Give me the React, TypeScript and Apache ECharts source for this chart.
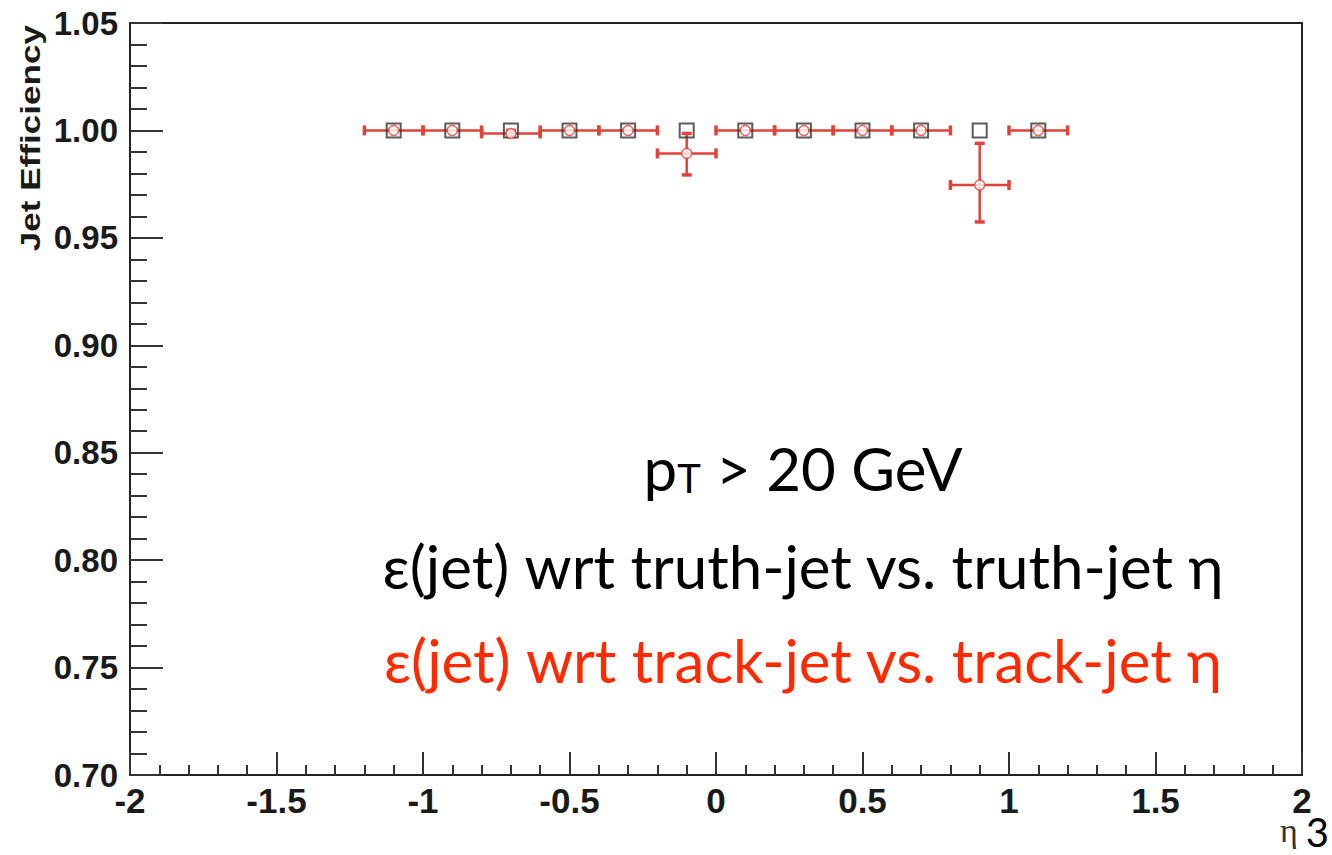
import React, { useEffect, useRef } from "react";
import * as echarts from "echarts";

const etaBins = [-1.1, -0.9, -0.7, -0.5, -0.3, -0.1, 0.1, 0.3, 0.5, 0.7, 0.9, 1.1];
const binHalfWidth = [0.1, 0.1, 0.1, 0.1, 0.1, 0.1, 0.1, 0.1, 0.1, 0.1, 0.1, 0.1];
const truthJetEff = [1.0, 1.0, 1.0, 1.0, 1.0, 1.0, 1.0, 1.0, 1.0, 1.0, 1.0, 1.0];
const trackJetEff = [1.0, 1.0, 0.9986, 1.0, 1.0, 0.9893, 1.0, 1.0, 1.0, 1.0, 0.9746, 1.0];
const trackErrLow = [0, 0, 0.0014, 0, 0, 0.0100, 0, 0, 0, 0, 0.0172, 0];
const trackErrHigh = [0, 0, 0.0014, 0, 0, 0.0093, 0, 0, 0, 0, 0.0194, 0];
const xTicks = [-2, -1.5, -1, -0.5, 0, 0.5, 1, 1.5, 2];
const yTicks = [0.7, 0.75, 0.8, 0.85, 0.9, 0.95, 1.0, 1.05];

const RED = "#e0433a";

export default function App() {
  const ref = useRef<HTMLDivElement>(null);
  useEffect(() => {
    document.body.style.margin = "0";
    const chart = echarts.init(ref.current!, null, { renderer: "svg" });
    const errData = etaBins.map((x, i) => [
      x,
      trackJetEff[i],
      binHalfWidth[i],
      trackErrLow[i],
      trackErrHigh[i],
    ]);
    const axisLabelFont = "'Liberation Sans', Arial, sans-serif";
    const option: any = {
      animation: false,
      backgroundColor: "#ffffff",
      grid: {
        left: 130,
        right: 30,
        top: 23,
        bottom: 80,
        show: true,
        borderColor: "#222",
        borderWidth: 2,
        backgroundColor: "transparent",
      },
      xAxis: {
        type: "value",
        min: xTicks[0],
        max: xTicks[xTicks.length - 1],
        interval: 0.5,
        axisLine: { show: true, onZero: false, lineStyle: { color: "#222", width: 2 } },
        axisTick: { show: true, inside: true, length: 23, lineStyle: { color: "#333", width: 2 } },
        minorTick: { show: true, splitNumber: 5, length: 10, lineStyle: { color: "#333", width: 2 } },
        splitLine: { show: false },
        axisLabel: {
          margin: 8,
          color: "#1a1a1a",
          fontFamily: axisLabelFont,
          fontWeight: "bold",
          fontSize: 35,
          formatter: (v: number) => String(v),
        },
      },
      yAxis: {
        type: "value",
        min: yTicks[0],
        max: yTicks[yTicks.length - 1],
        interval: 0.05,
        axisLine: { show: true, onZero: false, lineStyle: { color: "#222", width: 2 } },
        axisTick: { show: true, inside: true, length: 33, lineStyle: { color: "#333", width: 2 } },
        minorTick: { show: true, splitNumber: 5, length: 17, lineStyle: { color: "#333", width: 2 } },
        splitLine: { show: false },
        axisLabel: {
          margin: 12,
          color: "#1a1a1a",
          fontFamily: axisLabelFont,
          fontWeight: "bold",
          fontSize: 33,
          formatter: (v: number) => v.toFixed(2),
        },
      },
      series: [
        {
          type: "custom",
          name: "track-jet errors",
          data: errData,
          z: 2,
          renderItem: (params: any, api: any) => {
            const x = api.value(0);
            const y = api.value(1);
            const hw = api.value(2);
            const lo = api.value(3);
            const hi = api.value(4);
            const c = api.coord([x, y]);
            const l = api.coord([x - hw, y]);
            const r = api.coord([x + hw, y]);
            const t = api.coord([x, y + hi]);
            const b = api.coord([x, y - lo]);
            const st = { stroke: RED, lineWidth: 2.5 };
            const cap = { stroke: RED, lineWidth: 3.5 };
            const children: any[] = [
              { type: "line", shape: { x1: l[0], y1: c[1], x2: r[0], y2: c[1] }, style: st },
              { type: "line", shape: { x1: l[0], y1: c[1] - 5, x2: l[0], y2: c[1] + 5 }, style: cap },
              { type: "line", shape: { x1: r[0], y1: c[1] - 5, x2: r[0], y2: c[1] + 5 }, style: cap },
            ];
            if (hi > 0 || lo > 0) {
              children.push(
                { type: "line", shape: { x1: c[0], y1: t[1], x2: c[0], y2: b[1] }, style: st },
                { type: "line", shape: { x1: c[0] - 5, y1: t[1], x2: c[0] + 5, y2: t[1] }, style: cap },
                { type: "line", shape: { x1: c[0] - 5, y1: b[1], x2: c[0] + 5, y2: b[1] }, style: cap }
              );
            }
            return { type: "group", children };
          },
        },
        {
          type: "scatter",
          name: "truth-jet",
          data: etaBins.map((x, i) => [x, truthJetEff[i]]),
          symbol: "rect",
          symbolSize: 14,
          z: 3,
          itemStyle: { color: "transparent", borderColor: "#333", borderWidth: 2 },
        },
        {
          type: "scatter",
          name: "track-jet",
          data: etaBins.map((x, i) => [x, trackJetEff[i]]),
          symbol: "circle",
          symbolSize: 10,
          z: 4,
          itemStyle: { color: "#ffffff", borderColor: RED, borderWidth: 1.5 },
        },
      ],
      graphic: [
        {
          type: "text",
          x: 31,
          y: 25,
          rotation: Math.PI / 2,
          scaleX: 1.3,
          style: {
            text: "Jet Efficiency",
            fontFamily: axisLabelFont,
            fontWeight: "bold",
            fontSize: 27,
            fill: "#1a1a1a",
            align: "right",
            verticalAlign: "middle",
          },
        },
        {
          type: "text",
          x: 803,
          y: 468,
          style: {
            text: "{p|p}{t|T}{n| > 20 GeV}",
            align: "center",
            verticalAlign: "middle",
            fill: "#000",
            rich: {
              p: { fontFamily: "Lato", fontSize: 60, fill: "#000", verticalAlign: "bottom" },
              t: { fontFamily: "Lato", fontSize: 40, fill: "#000", verticalAlign: "bottom" },
              n: { fontFamily: "Lato", fontSize: 60, fill: "#000", verticalAlign: "bottom" },
            },
          },
        },
        {
          type: "text",
          x: 803,
          y: 566,
          style: {
            text: "\u03b5(jet) wrt truth-jet vs. truth-jet \u03b7",
            fontFamily: "Lato",
            fontSize: 60,
            fill: "#000",
            align: "center",
            verticalAlign: "middle",
          },
        },
        {
          type: "text",
          x: 803,
          y: 660,
          style: {
            text: "\u03b5(jet) wrt track-jet vs. track-jet \u03b7",
            fontFamily: "Lato",
            fontSize: 60,
            fill: "#ff2a00",
            align: "center",
            verticalAlign: "middle",
          },
        },
        {
          type: "text",
          x: 1289,
          y: 830,
          style: {
            text: "\u03b7",
            fontFamily: "'Liberation Serif', serif",
            fontSize: 34,
            fill: "#333",
            align: "center",
            verticalAlign: "middle",
          },
        },
        {
          type: "text",
          x: 1329,
          y: 832,
          style: {
            text: "3",
            fontFamily: "Lato",
            fontSize: 40,
            fill: "#000",
            align: "right",
            verticalAlign: "middle",
          },
        },
      ],
    };
    chart.setOption(option);
    return () => chart.dispose();
  }, []);
  return <div ref={ref} style={{ width: 1332, height: 855 }} />;
}
